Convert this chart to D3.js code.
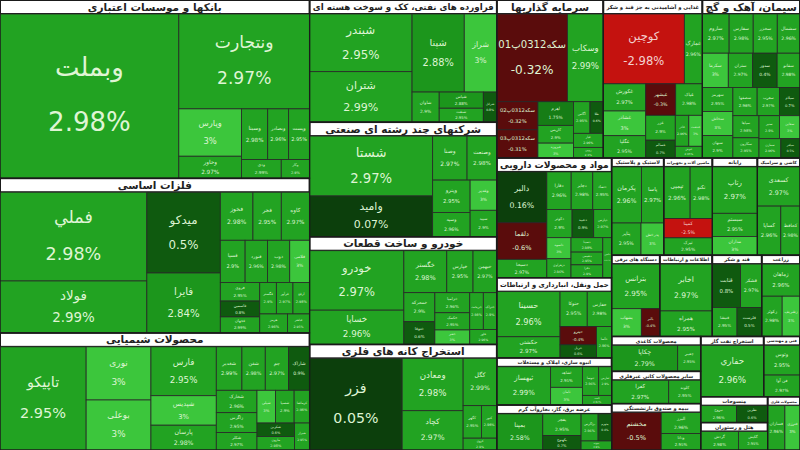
<!DOCTYPE html>
<html><head><meta charset="utf-8">
<script src="https://cdn.jsdelivr.net/npm/d3@7"></script>
<style>body{margin:0;background:#fff}svg{display:block}</style>
</head><body>
<svg id="c" width="800" height="450"></svg>
<script>
// [name, market value (area), change %]
const banks=[["وبملت",27700,2.98],["ونتجارت",11700,2.97],["وپارس",2800,3.0],["وخاور",1300,2.97],["وسینا",1250,2.98],["وبصادر",1000,2.96],["وپست",1000,2.95],["ودی",700,2.99],["وکار",500,2.9]];
const metals=[["فملي",12460,2.98],["فولاد",7280,2.99],["میدکو",5670,0.5],["فایرا",4200,2.84],["فخوز",1500,2.98],["فجر",1300,2.95],["کاوه",1300,2.97],["فسپا",1000,2.9],["فنورد",900,2.96],["ذوب",900,2.98],["فلامی",800,3.0],["فروی",700,2.95],["فاسمین",600,0.8],["فجهان",600,2.99],["فگستر",500,2.9],["فرآور",500,2.97],["ارفع",500,2.98],["هرمز",500,2.96],["فباهنر",400,2.95]];
const chem=[["تاپیکو",8770,2.95],["نوری",3400,3.0],["بوعلی",3200,3.0],["فارس",3150,2.95],["شپدیس",1900,3.0],["پارسان",1600,2.98],["شغدیر",1100,2.99],["شفن",1000,2.98],["جم",1000,2.97],["شاراک",900,0.9],["شخارک",900,2.96],["زاگرس",800,2.95],["شکلر",700,2.97],["شپلی",600,3.0],["شسپا",600,2.9],["کرماشا",500,2.96],["شکربن",500,0.6],["مارون",500,2.98],["شیراز",400,2.95]];
const oil=[["شبندر",5800,2.95],["شتران",5070,2.99],["شپنا",4000,2.88],["شراز",2500,3.0],["شاوان",800,2.9],["شپاس",700,2.88],["شنفت",600,2.95],["شرانل",400,0.8]];
const multi=[["شستا",7300,2.97],["وامید",4960,0.07],["وصنا",1500,2.97],["وصنعت",1300,2.98],["وپترو",1200,2.95],["وسپه",900,2.96],["وغدیر",800,3.0],["سپید",700,2.9]];
const auto=[["خودرو",5600,2.97],["خساپا",3220,2.96],["خگستر",1800,2.98],["خپارس",1100,2.95],["خبهمن",1000,2.97],["خمحرکه",900,2.9],["ختوقا",700,0.6],["خزامیا",700,2.96],["خکمک",600,2.95],["خفنر",500,3.0],["خریخت",500,2.98],["ختراک",500,2.9],["خاور",400,2.96]];
const mining=[["فزر",8500,0.05],["ومعادن",3200,2.98],["کچاد",2400,2.97],["کگل",1600,2.99],["کگهر",600,2.95],["کنور",500,2.96],["کروی",400,2.9]];
const invest=[["سکه0312پ01",5900,-0.32],["وسکاب",3000,2.99],["سکه0312پ02",1100,-0.32],["سکه0312پ03",1100,-0.31],["اهرم",800,1.75],["کاریس",600,2.9],["فیروزه",500,3.0],["آگاس",500,2.95],["طلا",400,0.6],["عیار",400,2.96],["رویین",300,2.9]];
const food=[["کوچین",5400,-2.98],["غمارگ",1200,2.96],["غکورش",1100,2.97],["غشاذر",1000,3.0],["غگلپا",900,2.95],["غبشهر",900,-0.3],["غپاک",800,2.98],["غزر",700,2.9],["غسالم",500,0.7],["غاذر",400,2.96],["غدشت",400,3.0],["غنوش",300,2.95]];
const cement=[["ساروم",1000,2.97],["سفارس",900,2.98],["سخزر",900,2.95],["سشمال",850,2.96],["سکرما",850,3.0],["ستران",800,2.97],["سدور",800,0.4],["سفانو",750,2.98],["سهرمز",700,2.95],["سخاش",700,3.0],["سبهان",650,2.9],["سصفها",650,2.96],["سغرب",600,2.97],["سیلام",550,0.7],["سپاها",550,2.98],["سکارون",500,2.95],["سنیر",450,2.9],["سقاین",450,3.0],["سمازن",400,2.96],["سباقر",350,0.5]];
const pharma=[["دالبر",2500,0.16],["دلقما",1800,-0.6],["دسبحا",900,2.97],["دفارا",900,2.96],["دجابر",800,2.98],["دتماد",700,2.95],["دکوثر",700,2.9],["دعبید",600,0.9],["دپارس",500,2.97],["داسوه",500,3.0],["دزهراوی",450,2.96],["دسینا",450,2.98],["دشیمی",400,2.95],["دفرا",400,2.9],["دامین",350,2.97]];
const transport=[["حسینا",3000,2.96],["حکشتی",1400,2.97],["حتوکا",1000,2.95],["حفارس",900,2.98],["حپترو",700,-0.4],["حریل",500,0.6],["حآسا",500,2.96]];
const housing=[["ثبهساز",2200,2.99],["ثشاهد",700,2.95],["ثامان",600,3.0],["ثنوسا",500,2.96],["ثفارس",400,2.9],["ثاخت",300,2.97]];
const power=[["بمپنا",1800,2.58],["بفجر",900,2.95],["بکهنوج",600,0.7],["بزاگرس",500,2.96],["بجهرم",400,0.4],["بپیوند",300,2.9]];
const rubber=[["پکرمان",1600,2.96],["پاسا",1200,2.97],["پتایر",900,2.95],["پدرخش",700,3.0]];
const machinery=[["تپمپی",1300,2.96],["کمینا",900,-2.5],["تبرک",800,2.95],["تکنو",1100,2.98]];
const computer=[["رتاپ",2000,2.97],["سیستم",1000,2.95],["مداران",800,3.0]];
const tile=[["کسعدی",1600,2.97],["کساپا",1100,2.96],["کحافظ",900,2.98]];
const electric=[["بترانس",2100,2.95],["بشهاب",800,3.0],["بالبر",500,-0.4]];
const telecom=[["اخابر",2400,2.97],["همراه",1300,2.95]];
const sugar=[["قثابت",1200,0.8],["قشکر",900,2.97],["قنیشا",700,2.95],["قلرست",700,0.5]];
const farming=[["زماهان",1200,2.96],["زکوثر",800,2.98],["زشریف",700,3.0]];
const paper=[["چکاپا",2000,2.79],["چفیبر",700,2.95]];
const mineral=[["کفرا",1600,2.97],["کلوند",900,2.95]];
const insurance=[["مخشتم",2000,-0.5],["البرز",900,2.96],["ودانا",700,2.95]];
const drilling=[["حفاري",3300,2.96]];
const engineering=[["وتوس",1100,2.95],["فن آوا",800,2.97]];
const textile=[["نبروج",800,2.96],["نطرین",700,0.6]];
const hotel=[["گردش",900,2.98],["گکیش",700,2.95]];
const metalprod=[["فسازان",800,2.96],["فنرژی",700,3.0]];

const S=(name,stocks,small)=>({name,small,children:stocks.map(s=>({name:s[0],value:s[1],chg:s[2]}))});
const G=(tile,children)=>({tile,children});
const rootData=G("dice",[
  G("slice",[S("بانکها و موسسات اعتباری",banks),S("فلزات اساسی",metals),S("محصولات شیمیایی",chem)]),
  G("slice",[S("فراورده های نفتی، کک و سوخت هسته ای",oil),S("شرکتهای چند رشته ای صنعتی",multi),S("خودرو و ساخت قطعات",auto),S("استخراج کانه های فلزی",mining)]),
  G("slice",[
    G("dice",[S("سرمایه گذاریها",invest),S("غذایی و آشامیدنی به جز قند و شکر",food),S("سیمان، آهک و گچ",cement)]),
    G("dice",[
      G("slice",[S("مواد و محصولات دارویی",pharma),S("حمل ونقل، انبارداری و ارتباطات",transport),S("انبوه سازی، املاک و مستغلات",housing,true),S("عرضه برق، گاز، بخاروآب گرم",power,true)]),
      G("squarify",[S("لاستیک و پلاستیک",rubber,true),S("ماشین آلات و تجهیزات",machinery,true),S("رایانه",computer,true),S("کاشی و سرامیک",tile,true),S("دستگاه های برقی",electric,true),S("اطلاعات و ارتباطات",telecom,true),S("قند و شکر",sugar,true),S("زراعت",farming,true),S("محصولات کاغذی",paper,true),S("سایر محصولات کانی غیرفلزی",mineral,true),S("بیمه و صندوق بازنشستگی",insurance,true),S("استخراج نفت گاز",drilling,true),S("فنی و مهندسی",engineering,true),S("منسوجات",textile,true),S("هتل و رستوران",hotel,true),S("محصولات فلزی",metalprod,true)])
    ])
  ])
]);

const W=800,H=450;
const root=d3.hierarchy(rootData).sum(d=>d.value||0)
  .sort((a,b)=>(a.children||b.children)?0:b.value-a.value);
d3.treemap().size([W,H])
  .tile((n,x0,y0,x1,y1)=>{const t=n.data.tile;
    if(t==="dice")d3.treemapDice(n,x0,y0,x1,y1);
    else if(t==="slice")d3.treemapSlice(n,x0,y0,x1,y1);
    else d3.treemapSquarify(n,x0,y0,x1,y1);})
  .paddingTop(d=>d.data.name&&d.children?(d.data.small?9:14):0)(root);

function color(c){
  if(c<=-2)return "#c4120f";
  if(c<0)return "#5a0c0c";
  if(c<0.2)return "#0c3f0c";
  if(c<1)return "#0f5a0f";
  if(c<2)return "#167d16";
  if(c<2.9)return "#1c961c";
  if(c<2.995)return "#22a322";
  return "#3cc63c";
}
function fit(t,maxW){
  const len=t.node().getComputedTextLength();
  if(len>maxW&&len>0){t.attr("font-size",parseFloat(t.attr("font-size"))*maxW/len);}
}
const fmt=c=>(Math.round(c*100)/100)+"%";
const svg=d3.select("#c");
svg.append("rect").attr("width",W).attr("height",H).attr("fill","#1b1b1b");
const leaves=root.leaves();
const g=svg.selectAll("g.leaf").data(leaves).join("g").attr("class","leaf")
  .attr("transform",d=>`translate(${d.x0},${d.y0})`);
g.append("rect").attr("width",d=>Math.max(0,d.x1-d.x0)).attr("height",d=>Math.max(0,d.y1-d.y0))
  .attr("fill",d=>color(d.data.chg)).attr("stroke","#2a2a2a").attr("stroke-width",0.8);
g.each(function(d){
  const w=d.x1-d.x0,h=d.y1-d.y0;
  let fs=Math.max(2.5,Math.min(26,Math.sqrt(w*h)/6.5));
  const gap=Math.min(h*0.22,fs*1.05);
  const el=d3.select(this);
  const col=d.data.chg<=-2?"#f3d0d0":"#dff5d4";
  const t1=el.append("text").attr("x",w/2).attr("y",h/2-gap).attr("text-anchor","middle").attr("dominant-baseline","middle")
    .attr("font-family","DejaVu Sans").attr("font-size",fs).attr("fill",col).text(d.data.name);
  fit(t1,w-3);
  const t2=el.append("text").attr("x",w/2).attr("y",h/2+gap).attr("text-anchor","middle").attr("dominant-baseline","middle")
    .attr("font-family","DejaVu Sans").attr("font-size",fs).attr("fill",col).text(fmt(d.data.chg));
  fit(t2,w-3);
});
const sectors=root.descendants().filter(d=>d.data.name&&d.children);
const sg=svg.selectAll("g.sec").data(sectors).join("g").attr("class","sec");
sg.append("rect").attr("x",d=>d.x0+1).attr("y",d=>d.y0+1).attr("width",d=>d.x1-d.x0-2).attr("height",d=>(d.data.small?9:14)-2)
  .attr("fill","#ffffff");
sg.append("text")
  .attr("x",d=>(d.x0+d.x1)/2).attr("y",d=>d.y0+(d.data.small?5:7.5)).attr("text-anchor","middle").attr("dominant-baseline","middle")
  .attr("font-family","DejaVu Sans").attr("font-weight","bold").attr("font-size",d=>d.data.small?5:10.5).attr("fill","#222")
  .text(d=>d.data.name).each(function(d){fit(d3.select(this),d.x1-d.x0-6);});
sg.append("rect").attr("x",d=>d.x0).attr("y",d=>d.y0).attr("width",d=>d.x1-d.x0).attr("height",d=>d.y1-d.y0)
  .attr("fill","none").attr("stroke","#1b1b1b").attr("stroke-width",1.2);
</script></body></html>
